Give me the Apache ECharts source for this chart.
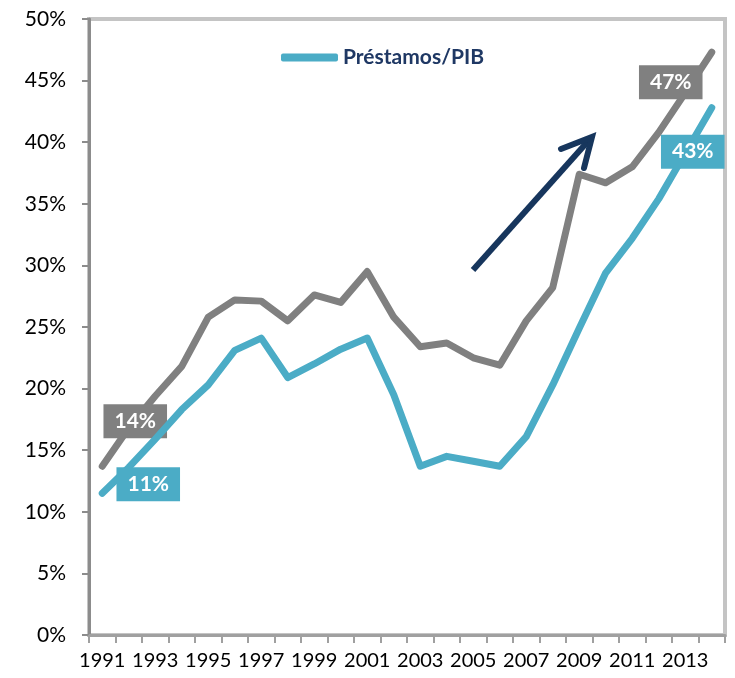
<!DOCTYPE html>
<html>
<head>
<meta charset="utf-8">
<script src="https://cdn.jsdelivr.net/npm/echarts@6/dist/echarts.min.js"></script>
<style>
  html, body { margin: 0; padding: 0; background: #fff; }
  #chart { width: 735px; height: 678px; }
</style>
</head>
<body>
<div id="chart"></div>
<script>
// años 1991 - 2014
const years = ['1991', '1992', '1993', '1994', '1995', '1996', '1997', '1998', '1999', '2000', '2001', '2002',
  '2003', '2004', '2005', '2006', '2007', '2008', '2009', '2010', '2011', '2012', '2013', '2014']
// serie gris (%)
const grayValues = [13.7, 16.8, 19.4, 21.8, 25.8, 27.2, 27.1, 25.5, 27.6, 27.0, 29.5, 25.8,
  23.4, 23.7, 22.5, 21.9, 25.5, 28.2, 37.4, 36.7, 38.0, 40.8, 44.0, 47.3]
// Préstamos/PIB (%)
const loanValues = [11.5, 13.6, 15.9, 18.3, 20.3, 23.1, 24.1, 20.9, 22.0, 23.2, 24.1, 19.5,
  13.7, 14.5, 14.1, 13.7, 16.1, 20.3, 24.9, 29.4, 32.2, 35.4, 39.1, 42.8]
const yTicks = {min: 0, max: 50, interval: 5}

const FONT = 'Lato, "Open Sans", sans-serif'
const GRAY = '#808080'
const TEAL = '#4bacc6'
const NAVY = '#17365d'

function boxLabel (text, color, offset) {
  return {
    show: true,
    position: 'inside',
    offset: offset,
    formatter: text,
    color: '#fff',
    fontFamily: FONT,
    fontWeight: 'bold',
    fontSize: 21,
    backgroundColor: color,
    padding: [7, 11, 6, 11]
  }
}

const grayData = grayValues.map(function (v, i) {
  if (i === 0) return {value: v, label: boxLabel('14%', GRAY, [33, -45])}
  if (i === grayValues.length - 1) return {value: v, label: boxLabel('47%', GRAY, [-41, 30])}
  return v
})
const loanData = loanValues.map(function (v, i) {
  if (i === 0) return {value: v, label: boxLabel('11%', TEAL, [46, -9])}
  if (i === loanValues.length - 1) return {value: v, label: boxLabel('43%', TEAL, [-19, 44])}
  return v
})

let myChart = echarts.init(document.getElementById('chart'))

let option = {
  animation: false,
  grid: {
    left: 89,
    right: 10,
    top: 19,
    bottom: 43,
    show: true,
    borderColor: '#c4c4c4',
    borderWidth: 4
  },
  legend: {
    data: ['Préstamos/PIB'],
    left: 276,
    top: 42,
    icon: 'roundRect',
    itemWidth: 57,
    itemHeight: 8,
    itemGap: 6,
    textStyle: {
      color: '#1f3864',
      fontFamily: FONT,
      fontWeight: 'bold',
      fontSize: 21
    }
  },
  xAxis: {
    type: 'category',
    data: years,
    boundaryGap: true,
    axisLine: {lineStyle: {color: '#a0a0a0', width: 3}},
    axisTick: {show: true, interval: 0, length: 8, lineStyle: {color: '#a0a0a0', width: 2}},
    axisLabel: {
      interval: 1,
      color: '#000',
      fontFamily: FONT,
      fontSize: 20,
      margin: 16
    },
    splitLine: {show: false}
  },
  yAxis: {
    type: 'value',
    min: yTicks.min,
    max: yTicks.max,
    interval: yTicks.interval,
    axisLine: {show: true, lineStyle: {color: '#8c8c8c', width: 3}},
    axisTick: {show: true, length: 7, lineStyle: {color: '#8c8c8c', width: 2}},
    axisLabel: {
      formatter: '{value}%',
      color: '#000',
      fontFamily: FONT,
      fontSize: 21,
      margin: 23
    },
    splitLine: {show: false}
  },
  series: [
    {
      name: 'Crédito/PIB',
      type: 'line',
      data: grayData,
      symbol: 'circle',
      symbolSize: 0,
      showAllSymbol: true,
      color: GRAY,
      lineStyle: {color: GRAY, width: 7, cap: 'round', join: 'round'},
      z: 3
    },
    {
      name: 'Préstamos/PIB',
      type: 'line',
      data: loanData,
      symbol: 'circle',
      symbolSize: 0,
      showAllSymbol: true,
      color: TEAL,
      lineStyle: {color: TEAL, width: 7, cap: 'round', join: 'round'},
      z: 4
    }
  ],
  graphic: [
    {
      type: 'group',
      z: 10,
      children: [
        {
          type: 'line',
          shape: {x1: 473, y1: 270, x2: 590, y2: 139},
          style: {stroke: NAVY, lineWidth: 6, lineCap: 'butt'}
        },
        {
          type: 'polyline',
          shape: {points: [[561, 149], [592, 137], [584, 168]]},
          style: {stroke: NAVY, lineWidth: 6, fill: null, lineCap: 'round', lineJoin: 'miter'}
        }
      ]
    }
  ]
}
myChart.setOption(option, true)
</script>
</body>
</html>
